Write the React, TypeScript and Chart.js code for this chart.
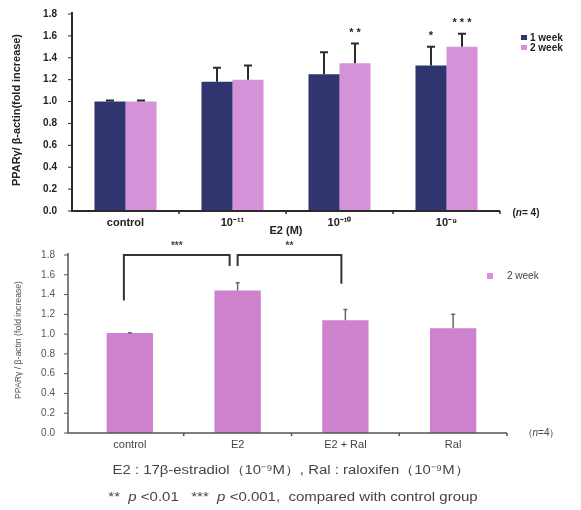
import React, { useEffect, useRef } from 'react';
import { Chart, registerables } from 'chart.js';

Chart.register(...registerables);

const FONT = '"Liberation Sans", Arial, sans-serif';

// ---------- top panel data ----------
const topCategories = ['control', '10⁻¹¹', '10⁻¹⁰', '10⁻⁹'];
const week1Values = [1.0, 1.18, 1.25, 1.33];
const week1Errors = [0.01, 0.13, 0.2, 0.17];
const week2Values = [1.0, 1.2, 1.35, 1.5];
const week2Errors = [0.01, 0.13, 0.18, 0.12];
const week1Stars = ['', '', '', '*'];
const week2Stars = ['', '', '**', '***'];

// ---------- bottom panel data ----------
const bottomCategories = ['control', 'E2', 'E2 + Ral', 'Ral'];
const bottomValues = [1.01, 1.44, 1.14, 1.06];
const bottomErrors = [0.005, 0.08, 0.11, 0.14];
const bracketFrom = [0, 1];
const bracketTo = [1, 2];
const bracketStartY = [1.34, 1.69];
const bracketEndY = [1.69, 1.51];
const bracketTopY = [1.8, 1.8];
const bracketLabels = ['***', '**'];

const yMin = 0;
const yMax = 1.8;
const yStep = 0.2;

const NAVY = '#30346f';
const PINK = '#d692d8';
const PINK2 = '#cc82cd';

function fitText(ctx: CanvasRenderingContext2D, text: string, x: number, y: number, targetW: number, rotate = 0) {
  ctx.save();
  ctx.translate(x, y);
  if (rotate) ctx.rotate(rotate);
  const w = ctx.measureText(text).width;
  if (targetW && w > 0) ctx.scale(targetW / w, 1);
  ctx.textAlign = 'center';
  ctx.fillText(text, 0, 0);
  ctx.restore();
}

type Seg = { t: string; i?: boolean };
function drawRich(ctx: CanvasRenderingContext2D, segs: Seg[], cx: number, y: number, size: number, weight: string, color: string, targetW = 0) {
  ctx.save();
  ctx.fillStyle = color;
  ctx.textBaseline = 'middle';
  ctx.textAlign = 'left';
  const fontOf = (s: Seg) => `${s.i ? 'italic ' : ''}${weight} ${size}px ${FONT}`;
  let total = 0;
  segs.forEach((s) => {
    ctx.font = fontOf(s);
    total += ctx.measureText(s.t).width;
  });
  let k = targetW ? targetW / total : 1;
  k = Math.min(Math.max(k, 0.85), 1.25);
  ctx.translate(cx - (total * k) / 2, y);
  ctx.scale(k, 1);
  let x = 0;
  segs.forEach((s) => {
    ctx.font = fontOf(s);
    ctx.fillText(s.t, x, 0);
    x += ctx.measureText(s.t).width;
  });
  ctx.restore();
}

function drawAxes(chart: any, axisX: number, color: string, lw: number, tickLen: number) {
  const { ctx, chartArea } = chart;
  const { top, bottom, right } = chartArea;
  const ys = chart.scales.y;
  const xs = chart.scales.x;
  ctx.save();
  ctx.strokeStyle = color;
  ctx.lineWidth = lw;
  ctx.beginPath();
  ctx.moveTo(axisX, top - 2);
  ctx.lineTo(axisX, bottom);
  ctx.lineTo(right, bottom);
  ctx.stroke();
  ctx.lineWidth = 1;
  ys.ticks.forEach((t: any) => {
    const py = ys.getPixelForValue(t.value);
    ctx.beginPath();
    ctx.moveTo(axisX - tickLen, py);
    ctx.lineTo(axisX, py);
    ctx.stroke();
  });
  const n = xs.ticks.length;
  ctx.lineWidth = 1.5;
  for (let i = 0; i < n; i++) {
    const px = xs.getPixelForValue(i + 0.5);
    ctx.beginPath();
    ctx.moveTo(px, bottom);
    ctx.lineTo(px, bottom + 3);
    ctx.stroke();
  }
  ctx.restore();
}

function drawErrorBars(chart: any, dsIndex: number, values: number[], errors: number[], color: string, lw: number, cap: number) {
  const { ctx } = chart;
  const ys = chart.scales.y;
  const meta = chart.getDatasetMeta(dsIndex);
  ctx.save();
  ctx.strokeStyle = color;
  ctx.lineWidth = lw;
  meta.data.forEach((bar: any, j: number) => {
    const y0 = ys.getPixelForValue(values[j]);
    const y1 = ys.getPixelForValue(values[j] + errors[j]);
    ctx.beginPath();
    ctx.moveTo(bar.x, y0);
    ctx.lineTo(bar.x, y1);
    ctx.moveTo(bar.x - cap / 2, y1);
    ctx.lineTo(bar.x + cap / 2, y1);
    ctx.stroke();
  });
  ctx.restore();
}

const topPlugin = {
  id: 'topDeco',
  afterDatasetsDraw(chart: any) {
    const { ctx, chartArea } = chart;
    const ys = chart.scales.y;
    const xs = chart.scales.x;
    drawAxes(chart, chartArea.left, '#2a2a2a', 2, 4);
    drawErrorBars(chart, 0, week1Values, week1Errors, '#2a2a2a', 2, 8);
    drawErrorBars(chart, 1, week2Values, week2Errors, '#2a2a2a', 2, 8);
    // stars
    ctx.save();
    ctx.fillStyle = '#222';
    ctx.font = `bold 11px ${FONT}`;
    ctx.textBaseline = 'middle';
    const m0 = chart.getDatasetMeta(0);
    const m1 = chart.getDatasetMeta(1);
    week1Stars.forEach((s, j) => {
      if (!s) return;
      const y = ys.getPixelForValue(week1Values[j] + week1Errors[j]);
      fitText(ctx, s.split('').join(' '), m0.data[j].x, y - 11, 0);
    });
    week2Stars.forEach((s, j) => {
      if (!s) return;
      const y = ys.getPixelForValue(week2Values[j] + week2Errors[j]);
      fitText(ctx, s.split('').join(' '), m1.data[j].x, y - 11, 0);
    });
    ctx.restore();
    // legend
    ctx.save();
    ctx.fillStyle = NAVY;
    ctx.fillRect(521, 35, 6, 5);
    ctx.fillStyle = PINK;
    ctx.fillRect(521, 45, 6, 5);
    ctx.fillStyle = '#222';
    ctx.font = `bold 10px ${FONT}`;
    ctx.textBaseline = 'middle';
    ctx.textAlign = 'left';
    ctx.fillText('1 week', 530, 38);
    ctx.fillText('2 week', 530, 48);
    ctx.restore();
    // y title
    ctx.save();
    ctx.fillStyle = '#222';
    ctx.font = `bold 10px ${FONT}`;
    ctx.textBaseline = 'middle';
    fitText(ctx, 'PPARγ/ β-actin(fold increase)', 17, 110, 152, -Math.PI / 2);
    ctx.restore();
    // x title and n
    ctx.save();
    ctx.fillStyle = '#222';
    ctx.font = `bold 11px ${FONT}`;
    ctx.textBaseline = 'middle';
    fitText(ctx, 'E2 (M)', (xs.left + xs.right) / 2, chartArea.bottom + 20, 0);
    ctx.restore();
    drawRich(ctx, [{ t: '(' }, { t: 'n', i: true }, { t: '= 4)' }], 526, chartArea.bottom + 2, 10, 'bold', '#222');
  },
};

const bottomAxisX = 68;

const bottomPlugin = {
  id: 'bottomDeco',
  afterDatasetsDraw(chart: any) {
    const { ctx, chartArea } = chart;
    const ys = chart.scales.y;
    drawAxes(chart, bottomAxisX, '#555', 1.5, 4);
    drawErrorBars(chart, 0, bottomValues, bottomErrors, '#666', 1.5, 4);
    // brackets
    const meta = chart.getDatasetMeta(0);
    const leftOff = [-6, 0];
    const rightOff = [-8, -4];
    ctx.save();
    ctx.strokeStyle = '#333';
    ctx.lineWidth = 2;
    bracketFrom.forEach((f, k) => {
      const x0 = meta.data[f].x + leftOff[k];
      const x1 = meta.data[bracketTo[k]].x + rightOff[k];
      const yTop = ys.getPixelForValue(bracketTopY[k]);
      ctx.beginPath();
      ctx.moveTo(x0, ys.getPixelForValue(bracketStartY[k]));
      ctx.lineTo(x0, yTop);
      ctx.lineTo(x1, yTop);
      ctx.lineTo(x1, ys.getPixelForValue(bracketEndY[k]));
      ctx.stroke();
      ctx.fillStyle = '#444';
      ctx.font = `bold 10px ${FONT}`;
      ctx.textBaseline = 'middle';
      fitText(ctx, bracketLabels[k], (x0 + x1) / 2, yTop - 9, 0);
    });
    ctx.restore();
    // legend
    ctx.save();
    ctx.fillStyle = PINK;
    ctx.fillRect(487, 33, 6, 6);
    ctx.fillStyle = '#444';
    ctx.font = `10px ${FONT}`;
    ctx.textBaseline = 'middle';
    ctx.textAlign = 'left';
    ctx.fillText('2 week', 507, 36);
    ctx.restore();
    // y title
    ctx.save();
    ctx.fillStyle = '#555';
    ctx.font = `9px ${FONT}`;
    ctx.textBaseline = 'middle';
    fitText(ctx, 'PPARγ / β-actin (fold increase)', 19, 100, 118, -Math.PI / 2);
    ctx.restore();
    drawRich(ctx, [{ t: '（' }, { t: 'n', i: true }, { t: '=4）' }], 541, chartArea.bottom, 10, 'normal', '#444');
    drawRich(
      ctx,
      [{ t: 'E2 : 17β-estradiol（10⁻⁹M）, Ral : raloxifen（10⁻⁹M）' }],
      291,
      231,
      12,
      'normal',
      '#444',
      357
    );
    drawRich(
      ctx,
      [
        { t: '**  ' },
        { t: 'p', i: true },
        { t: ' <0.01   ***  ' },
        { t: 'p', i: true },
        { t: ' <0.001,  compared with control group' },
      ],
      293,
      258,
      12,
      'normal',
      '#444',
      400
    );
  },
};

function TopChart() {
  const ref = useRef<HTMLCanvasElement>(null);
  useEffect(() => {
    const chart = new Chart(ref.current as HTMLCanvasElement, {
      type: 'bar',
      data: {
        labels: topCategories,
        datasets: [
          { label: '1 week', data: week1Values, backgroundColor: NAVY, borderWidth: 0 },
          { label: '2 week', data: week2Values, backgroundColor: PINK, borderWidth: 0 },
        ],
      },
      options: {
        responsive: false,
        animation: false,
        layout: { padding: { left: 0, right: 81, top: 14, bottom: 0 } },
        datasets: { bar: { categoryPercentage: 0.58, barPercentage: 1.0 } },
        plugins: { legend: { display: false }, tooltip: { enabled: false } },
        scales: {
          x: {
            grid: { display: false, drawTicks: false },
            border: { display: false },
            ticks: { color: '#222', font: { family: FONT, size: 11, weight: 'bold' }, padding: 5, maxRotation: 0 },
            afterFit: (s: any) => {
              s.height = 29;
            },
          },
          y: {
            min: yMin,
            max: yMax,
            grid: { display: false, drawTicks: true, tickLength: 15 },
            border: { display: false },
            ticks: {
              stepSize: yStep,
              color: '#222',
              font: { family: FONT, size: 10, weight: 'bold' },
              padding: 0,
              callback: (v: any) => Number(v).toFixed(1),
            },
            afterFit: (s: any) => {
              s.width = 72;
            },
          },
        },
      } as any,
      plugins: [topPlugin],
    });
    return () => chart.destroy();
  }, []);
  return <canvas ref={ref} width={581} height={240} style={{ position: 'absolute', left: 0, top: 0, display: 'block' }} />;
}

function BottomChart() {
  const ref = useRef<HTMLCanvasElement>(null);
  useEffect(() => {
    const chart = new Chart(ref.current as HTMLCanvasElement, {
      type: 'bar',
      data: {
        labels: bottomCategories,
        datasets: [{ label: '2 week', data: bottomValues, backgroundColor: PINK2, borderWidth: 0 }],
      },
      options: {
        responsive: false,
        animation: false,
        layout: { padding: { left: 0, right: 74, top: 15, bottom: 0 } },
        datasets: { bar: { categoryPercentage: 0.43, barPercentage: 1.0 } },
        plugins: { legend: { display: false }, tooltip: { enabled: false } },
        scales: {
          x: {
            grid: { display: false, drawTicks: false },
            border: { display: false },
            ticks: { color: '#444', font: { family: FONT, size: 11 }, padding: 5, maxRotation: 0 },
            afterFit: (s: any) => {
              s.height = 77;
            },
          },
          y: {
            min: yMin,
            max: yMax,
            grid: { display: false, drawTicks: true, tickLength: 21 },
            border: { display: false },
            ticks: {
              stepSize: yStep,
              color: '#555',
              font: { family: FONT, size: 10 },
              padding: 0,
              callback: (v: any) => Number(v).toFixed(1),
            },
            afterFit: (s: any) => {
              s.width = 76;
            },
          },
        },
      } as any,
      plugins: [bottomPlugin],
    });
    return () => chart.destroy();
  }, []);
  return <canvas ref={ref} width={581} height={270} style={{ position: 'absolute', left: 0, top: 240, display: 'block' }} />;
}

export default function App() {
  return (
    <div style={{ position: 'absolute', left: 0, top: 0, width: 581, height: 510, background: '#ffffff', overflow: 'hidden' }}>
      <TopChart />
      <BottomChart />
    </div>
  );
}
